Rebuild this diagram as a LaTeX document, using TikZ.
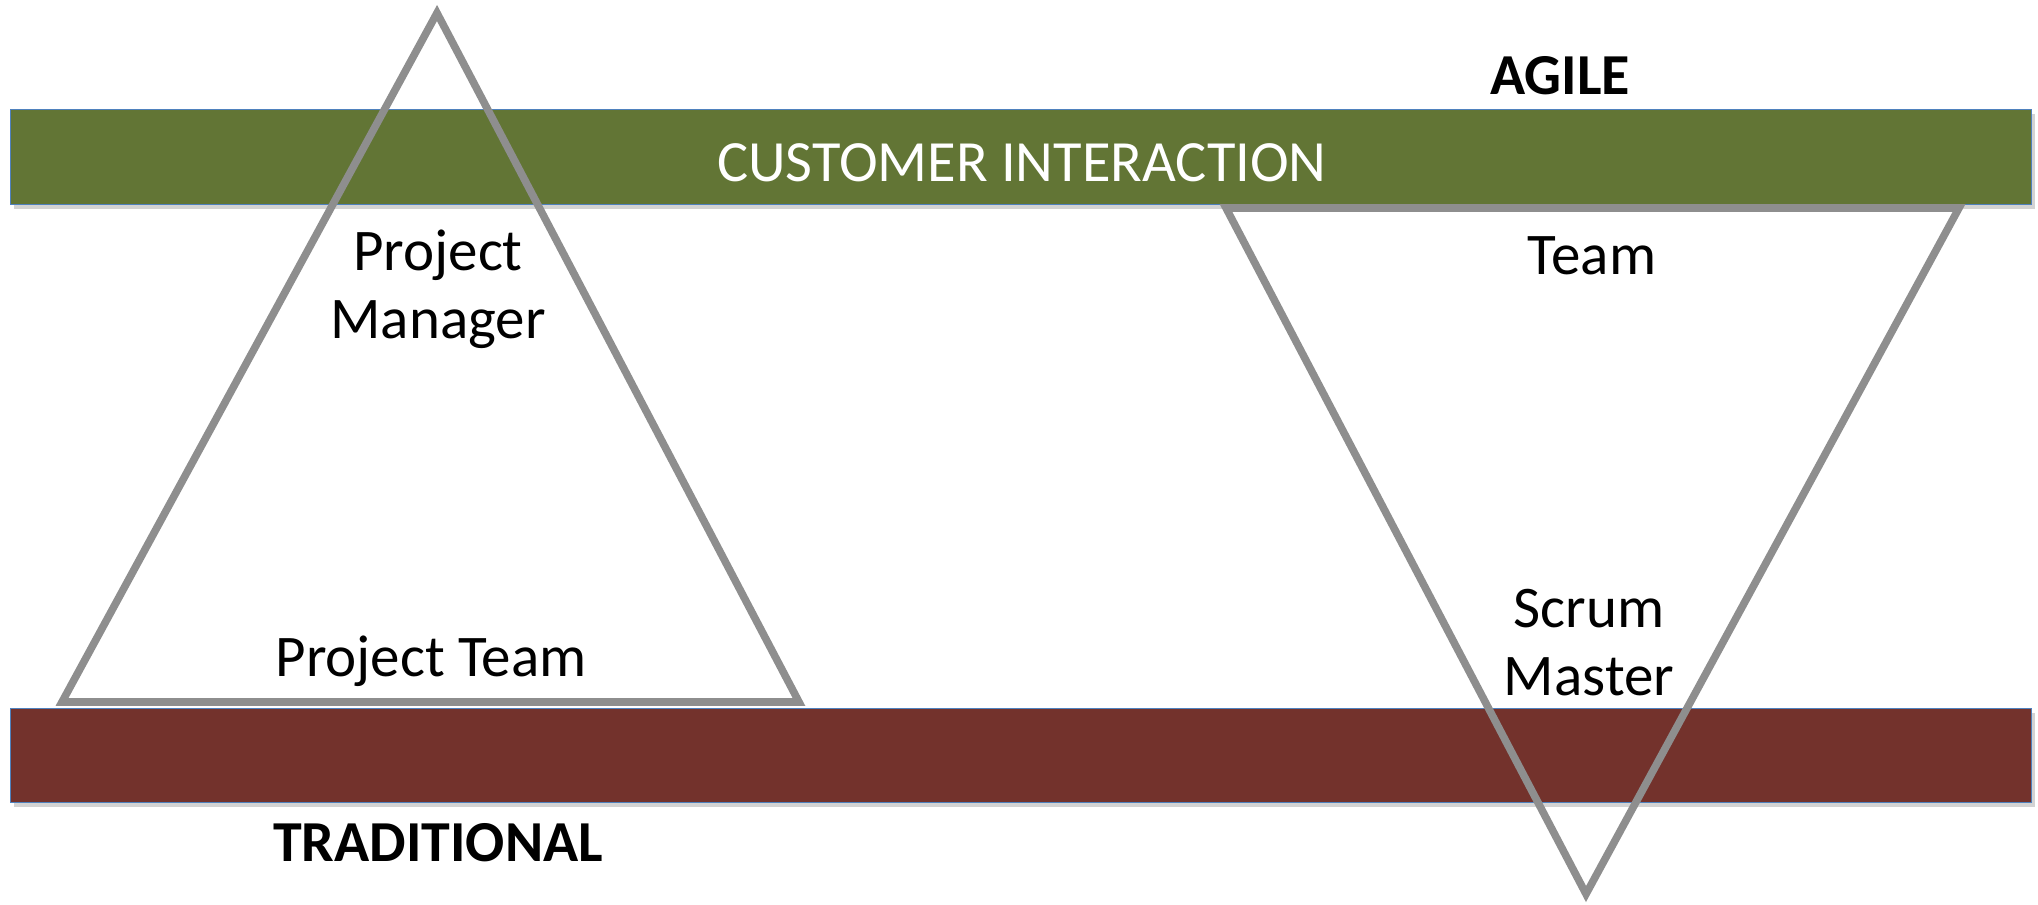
\documentclass[tikz,border=0pt]{standalone}
\usepackage{fontspec}
\setmainfont{Carlito}
\usetikzlibrary{shadows}
\definecolor{agilegreen}{HTML}{627535}
\definecolor{tradred}{HTML}{73322C}
\definecolor{barborder}{HTML}{4F81BD}
\definecolor{trigray}{HTML}{8E8E8E}
\tikzset{
  bar/.style={draw=barborder, line width=0.6pt, minimum width=1010.5pt, inner sep=0pt, anchor=north west, drop shadow={opacity=0.35, shadow xshift=1.5pt, shadow yshift=-2pt}},
  tri/.style={draw=trigray, line width=3.8pt, line join=miter},
  lbl/.style={font=\fontsize{29.5}{34}\selectfont, text=black, align=center, inner sep=0pt},
  hdr/.style={font=\fontsize{29}{33}\selectfont\bfseries, text=black, inner sep=0pt}
}
\begin{document}
\begin{tikzpicture}[x=0.5pt, y=-0.5pt]
\useasboundingbox (0,0) rectangle (2038,904);
% bars
\node[bar, fill=agilegreen, minimum height=47.5pt] (green) at (10,109) {};
\node[bar, fill=tradred, minimum height=47pt] (red) at (10,708) {};
\node[font=\fontsize{29.2}{33}\selectfont, text=white, inner sep=0pt] (ci) at (1022,163) {CUSTOMER INTERACTION};
% left triangle
\coordinate (la) at (437,13);
\coordinate (lb) at (62,702);
\coordinate (lc) at (799,702);
\draw[tri] (la) -- (lb) -- (lc) -- cycle;
% right triangle
\coordinate (ra) at (1226,208);
\coordinate (rb) at (1959,208);
\coordinate (rc) at (1586,894);
\draw[tri] (ra) -- (rb) -- (rc) -- cycle;
% labels
\node[hdr] (agile) at (1560,76) {AGILE};
\node[hdr] (trad) at (438,843) {TRADITIONAL};
\node[lbl] (pm) at (438,289) {Project\\Manager};
\node[lbl] (pt) at (431,661) {Project Team};
\node[lbl] (team) at (1592,256) {Team};
\node[lbl] (sm) at (1589,643) {Scrum\\Master};
\end{tikzpicture}
\end{document}
